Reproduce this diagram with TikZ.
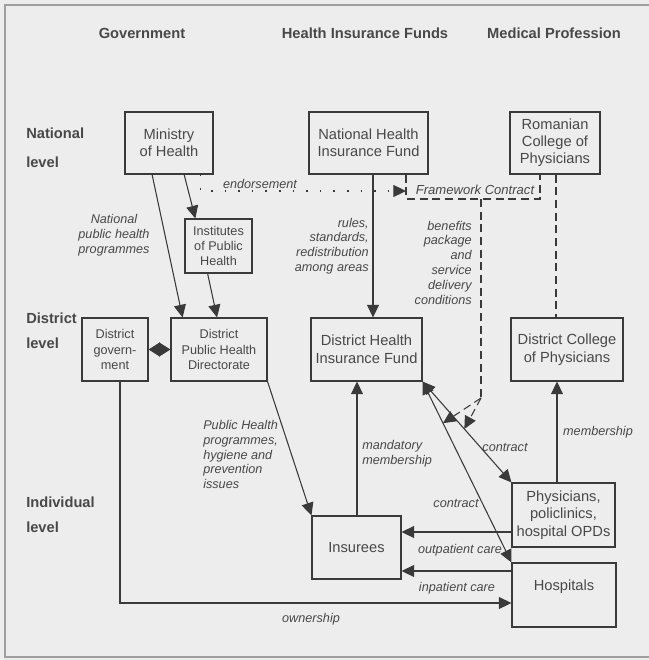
\documentclass[tikz,border=0pt]{standalone}
\usepackage{fontspec}
\setmainfont{Liberation Sans}
\usetikzlibrary{arrows.meta,calc}
\definecolor{bg}{HTML}{EDEDED}
\definecolor{ink}{HTML}{3A3A3A}
\definecolor{txt}{HTML}{484848}
\begin{document}
\begin{tikzpicture}[x=0.75pt,y=-0.75pt,
  box/.style={draw=ink, line width=0.8pt, align=center, font=\fontsize{11}{13}\selectfont, text=txt, inner sep=2pt},
  sbox/.style={box, font=\fontsize{9.5}{11.6}\selectfont},
  lab/.style={font=\fontsize{9.5}{11.1}\selectfont\itshape, text=txt, inner sep=0pt},
  hdr/.style={font=\fontsize{11}{13}\selectfont\bfseries, text=txt, inner sep=0pt},
  tip/.tip={Triangle[length=9.5pt,width=9pt]},
  ln/.style={draw=ink, line width=0.8pt},
  arr/.style={ln, -tip},
  dsh/.style={ln, dash pattern=on 6pt off 3.5pt},
  dot/.style={ln, dash pattern=on 1.2pt off 9pt},
  ]
\fill[bg] (0,0) rectangle (649,660);
\useasboundingbox (0,0) rectangle (649,660);
\draw[gray!75, line width=0.9pt] (5,5) rectangle (665,657);

% headers
\node[hdr] (hgov) at (142,33) {Government};
\node[hdr] (hhif) at (365,33) {Health Insurance Funds};
\node[hdr] (hmp) at (554,33) {Medical Profession};
\node[hdr, anchor=west] (lnat1) at (26,133) {National};
\node[hdr, anchor=west] (lnat2) at (26,162) {level};
\node[hdr, anchor=west] (ldis1) at (26,318) {District};
\node[hdr, anchor=west] (ldis2) at (26,343) {level};
\node[hdr, anchor=west] (lind1) at (26,502) {Individual};
\node[hdr, anchor=west] (lind2) at (26,527) {level};

% boxes
\node[box, minimum width=66pt, minimum height=46.5pt] (mh) at (169,143) {Ministry\\of Health};
\node[sbox, minimum width=50.25pt, minimum height=40.5pt] (iph) at (218.5,246) {Institutes\\of Public\\Health};
\node[box, minimum width=89.25pt, minimum height=46.5pt] (nhif) at (368.5,143) {National Health\\Insurance Fund};
\node[box, minimum width=67.5pt, minimum height=46.5pt, font=\fontsize{11}{12.75}\selectfont] (rcp) at (555,143) {Romanian\\College of\\Physicians};
\node[sbox, minimum width=49.5pt, minimum height=47.25pt] (dg) at (115,349.5) {District\\govern-\\ment};
\node[sbox, minimum width=72pt, minimum height=47.25pt] (dphd) at (219,349.5) {District\\Public Health\\Directorate};
\node[box, minimum width=83.25pt, minimum height=47.25pt, font=\fontsize{11}{13.5}\selectfont] (dhif) at (366.5,349.5) {District Health\\Insurance Fund};
\node[box, minimum width=84pt, minimum height=47.25pt, font=\fontsize{11}{13.5}\selectfont] (dcp) at (567,349.5) {District College\\of Physicians};
\node[box, minimum width=66.75pt, minimum height=47.25pt] (ins) at (356.5,547.5) {Insurees};
\node[box, minimum width=77.25pt, minimum height=48pt, font=\fontsize{11}{13.2}\selectfont] (phys) at (563.5,515) {Physicians,\\policlinics,\\hospital OPDs};
\node[box, minimum width=78pt, minimum height=48pt] (hosp) at (564,595) {};
\node[box, draw=none] (hosptxt) at (564,587) {Hospitals};

% labels
\node[lab] (lendo) at (260,184) {endorsement};
\node[lab, align=center] (lnph) at (114,235.5) {National\\public health\\programmes};
\node[lab, align=right, anchor=east] (lrules) at (369,246) {rules,\\standards,\\redistribution\\among areas};
\node[lab, align=right, anchor=east] (lben) at (472,262.5) {benefits\\package\\and\\service\\delivery\\conditions};
\node[lab, align=left, anchor=west] (lphp) at (203,454.5) {Public Health\\programmes,\\hygiene and\\prevention\\issues};
\node[lab, align=left, anchor=west] (lmand) at (362,453.5) {mandatory\\membership};
\node[lab] (lc1) at (505,447) {contract};
\node[lab] (lc2) at (456,503) {contract};
\node[lab] (lmem) at (598,432) {membership};
\node[lab] (lout) at (460,550) {outpatient care};
\node[lab] (linp) at (457,588) {inpatient care};
\node[lab] (lown) at (311,619) {ownership};
\node[lab, font=\fontsize{9.8}{12}\selectfont\itshape] (lfc) at (475,189.5) {Framework Contract};

% helper coordinates
\coordinate (x373) at (373,0);
\coordinate (x556) at (556,0);
\coordinate (x357) at (357,0);
\coordinate (x557) at (557,0);
\coordinate (x120) at (120,0);
\coordinate (y532) at (0,532);
\coordinate (y571) at (0,571);
\coordinate (y603) at (0,603);
\coordinate (fcBL) at (406,199);
\coordinate (fcBR) at (540,199);
\coordinate (fcM) at (481,199);
\coordinate (split) at (481,398);
\coordinate (endo) at (406,191);

% government
\draw[arr] ($(mh.south west)!0.31!(mh.south east)$) -- ($(dphd.north west)!0.125!(dphd.north east)$);
\draw[arr] ($(mh.south west)!0.67!(mh.south east)$) -- ($(iph.north west)!0.16!(iph.north east)$);
\draw[arr] ($(iph.south west)!0.34!(iph.south east)$) -- ($(dphd.north west)!0.48!(dphd.north east)$);
\draw[ln, {Triangle[length=8.5pt,width=10.5pt]}-{Triangle[length=8.5pt,width=10.5pt]}] (dg.east) -- (dphd.west);
\draw[arr] (dphd.south east) -- (ins.north west);
\draw[arr] (dg.south -| x120) |- (hosp.west |- y603);

% endorsement and framework contract
\draw[dot, -tip] ($(mh.south west)!0.85!(mh.south east)$) |- (endo);
\draw[dsh] (nhif.south -| fcBL) -- (fcBL) -- (fcBR) -- (rcp.south -| fcBR);
\draw[dsh] (fcM) -- (split);
\coordinate (c2pt) at ($(dhif.south east)!0.23!(hosp.north west)$);
\coordinate (c1pt) at ($(dhif.south east)!0.47!(phys.north west)$);
\draw[dsh, -tip] (split) -- (c2pt);
\draw[dsh, -tip] (split) -- (c1pt);

% insurance funds
\draw[arr] (nhif.south -| x373) -- (dhif.north -| x373);
\draw[arr] (ins.north -| x357) -- (dhif.south -| x357);
\draw[ln, tip-tip] (dhif.south east) -- (phys.north west);
\draw[ln, tip-tip] (dhif.south east) -- (hosp.north west);

% medical profession
\draw[dsh] (rcp.south -| x556) -- (dcp.north -| x556);
\draw[arr] (phys.north -| x557) -- (dcp.south -| x557);
\draw[arr] (phys.west |- y532) -- (ins.east |- y532);
\draw[arr] (hosp.west |- y571) -- (ins.east |- y571);
\end{tikzpicture}
\end{document}
